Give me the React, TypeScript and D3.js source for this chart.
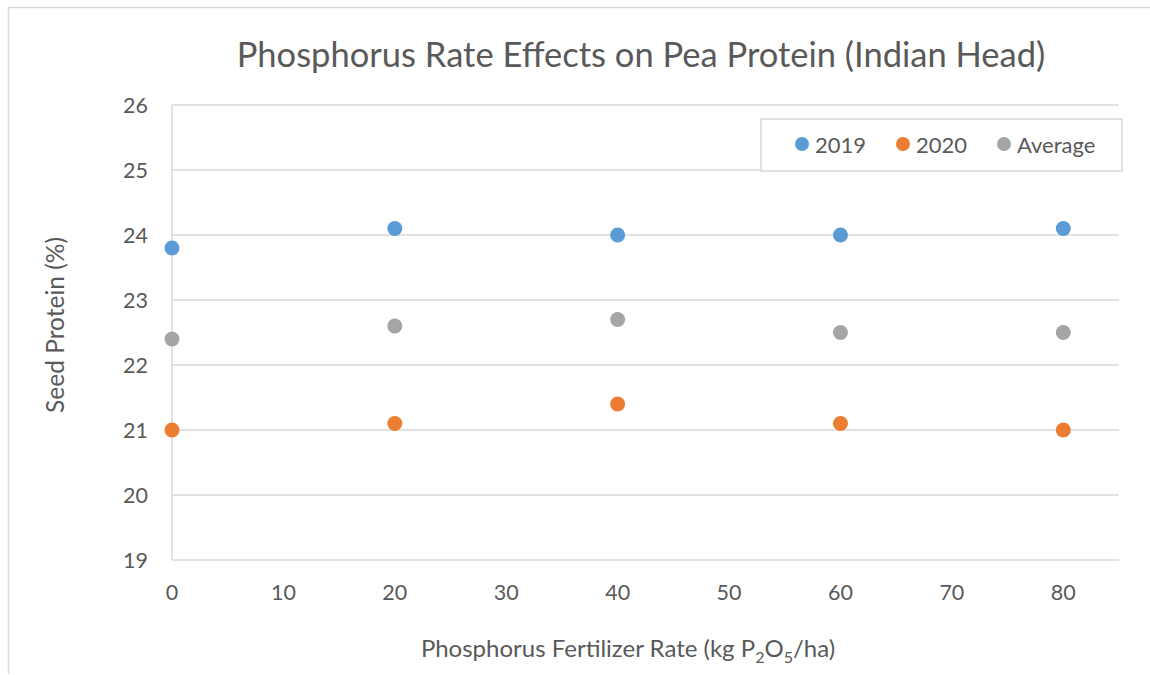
import React from 'react';
import * as d3 from 'd3';

const rates = [0, 20, 40, 60, 80];
const protein2019 = [23.8, 24.1, 24.0, 24.0, 24.1];
const protein2020 = [21.0, 21.1, 21.4, 21.1, 21.0];
const proteinAvg = [22.4, 22.6, 22.7, 22.5, 22.5];
const xTicks = [0, 10, 20, 30, 40, 50, 60, 70, 80];
const yTicks = [19, 20, 21, 22, 23, 24, 25, 26];

const series = [
  { name: '2019', values: protein2019, color: '#5b9bd5' },
  { name: '2020', values: protein2020, color: '#ed7d31' },
  { name: 'Average', values: proteinAvg, color: '#a5a5a5' },
];

const W = 1150;
const H = 675;
const FONT = 'Lato, "Open Sans", sans-serif';
const TEXT = '#595959';

const App = () => {
  const x = d3.scaleLinear().domain([0, 85]).range([172, 1119]);
  const y = d3.scaleLinear().domain([19, 26]).range([560, 105]);

  // legend layout
  const legendX = [802, 903, 1004];

  return (
    <svg width={W} height={H} style={{ position: 'absolute', left: 0, top: 0, background: '#fff' }} fontFamily={FONT}>
      {/* outer chart border */}
      <path d={`M8.5,674 V7.5 H1150`} fill="none" stroke="#d9d9d9" strokeWidth={1.5} />

      <text x={641} y={53} textAnchor="middle" dominantBaseline="central" fontSize={34.5} fill={TEXT}>
        Phosphorus Rate Effects on Pea Protein (Indian Head)
      </text>

      {/* gridlines */}
      {yTicks.map(t => (
        <line key={t} x1={x(0)} x2={x(85)} y1={y(t)} y2={y(t)} stroke="#d9d9d9" strokeWidth={1.5} />
      ))}
      <line x1={x(0)} x2={x(0)} y1={y(26)} y2={y(19)} stroke="#d9d9d9" strokeWidth={1.5} />

      {/* y tick labels */}
      {yTicks.map(t => (
        <text key={t} x={148} y={y(t)} textAnchor="end" dominantBaseline="central" fontSize={21.5} fill={TEXT}>
          {t}
        </text>
      ))}
      {/* x tick labels */}
      {xTicks.map(t => (
        <text key={t} x={x(t)} y={592} textAnchor="middle" dominantBaseline="central" fontSize={21.5} fill={TEXT}>
          {t}
        </text>
      ))}

      {/* axis titles */}
      <text x={628} y={647} textAnchor="middle" dominantBaseline="central" fontSize={24} fill={TEXT}>
        Phosphorus Fertilizer Rate (kg P<tspan baselineShift="sub" fontSize={16}>2</tspan>O<tspan baselineShift="sub" fontSize={16}>5</tspan>/ha)
      </text>
      <text transform={`translate(54,325) rotate(-90)`} textAnchor="middle" dominantBaseline="central" fontSize={24.5} fill={TEXT}>
        Seed Protein (%)
      </text>

      {/* points */}
      {series.map(s => (
        <g key={s.name}>
          {s.values.map((v, i) => (
            <circle key={i} cx={x(rates[i])} cy={y(v)} r={7.5} fill={s.color} />
          ))}
        </g>
      ))}

      {/* legend */}
      <rect x={761} y={119} width={361} height={52} fill="#fff" stroke="#d9d9d9" strokeWidth={1.5} />
      {series.map((s, i) => (
        <g key={s.name}>
          <circle cx={legendX[i]} cy={144} r={7} fill={s.color} />
          <text x={legendX[i] + 13} y={144} dominantBaseline="central" fontSize={22} fill={TEXT}>
            {s.name}
          </text>
        </g>
      ))}
    </svg>
  );
};

export default App;
